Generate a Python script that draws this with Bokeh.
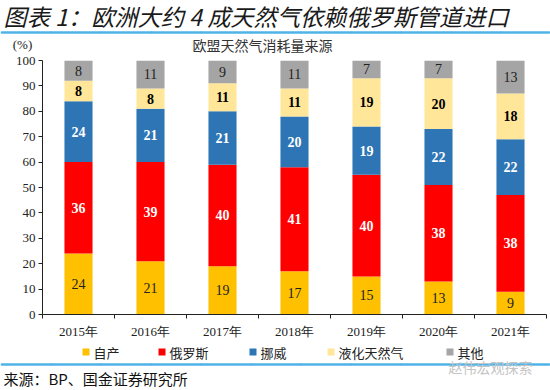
from bokeh.plotting import figure
from bokeh.layouts import column
from bokeh.models import (ColumnDataSource, Range1d, FixedTicker, LinearAxis, Label,
                          LabelSet, BoxAnnotation)
from bokeh.embed import file_html
from bokeh.resources import INLINE

years = ["2015年", "2016年", "2017年", "2018年", "2019年", "2020年", "2021年"]
series_names = ["自产", "俄罗斯", "挪威", "液化天然气", "其他"]
domestic = [24, 21, 19, 17, 15, 13, 9]
russia = [36, 39, 40, 41, 40, 38, 38]
norway = [24, 21, 21, 20, 19, 22, 22]
lng = [8, 8, 11, 11, 19, 20, 18]
other = [8, 11, 9, 11, 7, 7, 13]
y_ticks = [0, 10, 20, 30, 40, 50, 60, 70, 80, 90, 100]

colors = ["#FFC000", "#FF0000", "#2E75B6", "#FFE699", "#A5A5A5"]
label_colors = ["#222222", "#FFFFFF", "#FFFFFF", "#000000", "#222222"]
label_styles = ["normal", "bold", "bold", "bold", "normal"]
keys = ["s0", "s1", "s2", "s3", "s4"]
series = [domestic, russia, norway, lng, other]
legend_x = [82, 158, 249, 327, 446]   # px positions of legend squares

W = 550
TOP_H, MAIN_H, BOT_H = 53, 288, 49
LINE_BLUE = "#4FB3E8"
CJK = "Noto Sans CJK SC"
SERIF = "Liberation Serif"


def text_fig(h):
    f = figure(width=W, height=h, output_backend="svg", toolbar_location=None,
               x_range=Range1d(0, W), y_range=Range1d(h, 0),
               x_axis_type=None, y_axis_type=None, frame_align=False,
               min_border_left=0, min_border_right=0, min_border_top=0, min_border_bottom=0)
    f.outline_line_color = None
    f.grid.visible = False
    f.background_fill_color = "white"
    f.border_fill_color = "white"
    return f


def box(f, l, t, r, b, color):
    f.add_layout(BoxAnnotation(left=l, right=r, top=t, bottom=b, fill_color=color, fill_alpha=1,
                               line_color=None))


def rule(f, y, color):
    # decorative horizontal rule across the figure, drawn in short pieces
    step = 50
    for x0 in range(0, W, step):
        box(f, x0, y - 1, min(x0 + step + 1, W), y + 1, color)
    f.segment(x0=[1], y0=[y], x1=[W - 1], y1=[y], line_color=color, line_width=2)


# ---------- top ----------
top = text_fig(TOP_H)
top.add_layout(Label(x=3, y=15, text="图表 1：欧洲大约 4 成天然气依赖俄罗斯管道进口",
                     text_font=CJK, text_font_size="23.2px", text_font_style="italic",
                     text_color="#1A1A1A", text_baseline="middle"))
rule(top, 32, LINE_BLUE)
top.add_layout(Label(x=262, y=44, text="欧盟天然气消耗量来源", text_font=CJK,
                     text_font_size="14px", text_color="#333333", text_align="center",
                     text_baseline="middle"))
top.add_layout(Label(x=22, y=44, text="(%)", text_font=SERIF, text_font_size="13px",
                     text_color="#222222", text_align="center", text_baseline="middle"))

# ---------- main ----------
p = figure(width=W, height=MAIN_H, output_backend="svg", toolbar_location=None,
           x_range=Range1d(0, 7), y_range=Range1d(0, 100), frame_align=False,
           min_border_left=42, min_border_right=4, min_border_top=7, min_border_bottom=26)
p.outline_line_color = None
p.grid.visible = False
p.background_fill_color = "white"
p.border_fill_color = "white"

xs = [i + 0.5 for i in range(len(years))]
data = {"x": xs}
for k, s in zip(keys, series):
    data[k] = s
src = ColumnDataSource(data)
p.vbar_stack(keys, x="x", width=0.39, source=src, color=colors, line_color=None)

for j, (k, s) in enumerate(zip(keys, series)):
    base = [sum(series[m][i] for m in range(j)) for i in range(len(years))]
    mids = [b + v / 2 for b, v in zip(base, s)]
    lsrc = ColumnDataSource({"x": xs, "y": mids, "t": [str(v) for v in s]})
    p.add_layout(LabelSet(x="x", y="y", text="t", source=lsrc, text_align="center",
                          text_baseline="middle", text_font=SERIF, text_font_size="14px",
                          text_color=label_colors[j], text_font_style=label_styles[j]))

ya = p.yaxis[0]
ya.ticker = FixedTicker(ticks=y_ticks)
ya.major_label_text_font = SERIF
ya.major_label_text_font_size = "13px"
ya.major_label_text_color = "#222222"
ya.axis_line_color = "#222222"
ya.major_tick_line_color = "#222222"
ya.major_tick_out = 4
ya.major_tick_in = 0
ya.minor_tick_line_color = None
ya.major_label_standoff = 3

xa = p.xaxis[0]
xa.ticker = FixedTicker(ticks=list(range(len(years) + 1)))
xa.major_label_overrides = {i: "" for i in range(len(years) + 1)}
xa.major_label_text_font_size = "0px"
xa.axis_line_color = "#222222"
xa.major_tick_line_color = "#222222"
xa.major_tick_out = 4
xa.major_tick_in = 0
xa.minor_tick_line_color = None
xa.major_label_standoff = 0

xl = LinearAxis(ticker=FixedTicker(ticks=xs),
                major_label_overrides={x: y for x, y in zip(xs, years)})
xl.axis_line_color = None
xl.major_tick_line_color = None
xl.minor_tick_line_color = None
xl.major_label_text_font = SERIF
xl.major_label_text_font_size = "13px"
xl.major_label_text_color = "#222222"
xl.major_label_standoff = -1
p.add_layout(xl, "below")

# ---------- bottom ----------
bot = text_fig(BOT_H)
y0 = TOP_H + MAIN_H   # page y of bottom figure top
for name, c, lx in zip(series_names, colors, legend_x):
    box(bot, lx, 348 - y0, lx + 7, 355 - y0, c)
    bot.add_layout(Label(x=lx + 11, y=351.5 - y0, text=name, text_font=CJK, text_font_size="13px",
                         text_color="#222222", text_baseline="middle"))
rule(bot, 364 - y0, LINE_BLUE)
bot.add_layout(Label(x=448, y=366 - y0, text="赵伟宏观探索", text_font=CJK, text_font_size="14px",
                     text_color="#C4C4C4", text_baseline="middle"))
bot.add_layout(Label(x=3, y=378 - y0, text="来源：BP、国金证券研究所", text_font=CJK,
                     text_font_size="15px", text_color="#111111", text_baseline="middle"))

layout = column(top, p, bot, spacing=0)
open("out.html", "w").write(file_html(layout, INLINE))
